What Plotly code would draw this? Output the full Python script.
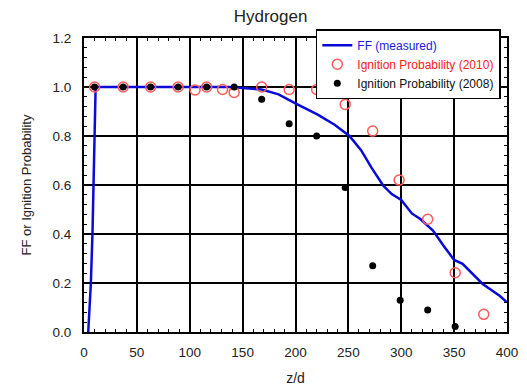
import plotly.graph_objects as go

# Blue FF (measured) curve
ff_z = [4, 6.5, 8, 9, 10, 11, 20, 50, 100, 137, 168, 184, 199, 221, 237, 251, 262,
        272, 283, 291, 300, 310, 318, 330, 340, 350, 358, 368, 377, 393, 400]
ff_val = [0.0, 0.2, 0.4, 0.6, 0.8, 1.0, 1.0, 1.0, 1.0, 1.0, 0.99, 0.97, 0.935, 0.887,
          0.846, 0.80, 0.742, 0.67, 0.597, 0.563, 0.539, 0.484, 0.461, 0.414, 0.352,
          0.294, 0.278, 0.237, 0.196, 0.148, 0.121]

# Ignition probability 2010 (open red circles)
ip2010_z = [10, 37, 63, 89, 105, 116, 131, 142, 168, 194, 220, 247, 273, 298, 325, 351, 378]
ip2010_val = [1.0, 1.0, 1.0, 1.0, 0.988, 1.0, 0.99, 0.978, 1.0, 0.99, 0.99, 0.929,
              0.82, 0.62, 0.46, 0.242, 0.072]

# Ignition probability 2008 (black dots)
ip2008_z = [10, 37, 63, 89, 116, 142, 168, 194, 220, 247, 273, 299, 325, 351]
ip2008_val = [1.0, 1.0, 1.0, 1.0, 1.0, 1.0, 0.95, 0.85, 0.80, 0.59, 0.27, 0.13, 0.09, 0.022]

FONT = "Arial, Liberation Sans, sans-serif"

fig = go.Figure()
fig.add_trace(go.Scatter(
    x=ff_z, y=ff_val, mode="lines",
    line=dict(color="#0a0ad8", width=2.5),
    name="<span style='color:#1a1ae6'>FF (measured)</span>"))
fig.add_trace(go.Scatter(
    x=ip2010_z, y=ip2010_val, mode="markers",
    marker=dict(symbol="circle-open", size=10, color="#ff5a5a", line=dict(width=1.5)),
    name="<span style='color:#ff2020'>Ignition Probability (2010)</span>"))
fig.add_trace(go.Scatter(
    x=ip2008_z, y=ip2008_val, mode="markers",
    marker=dict(symbol="circle", size=7, color="black"),
    name="<span style='color:#111'>Ignition Probability (2008)</span>"))

axis_common = dict(
    showline=True, linecolor="black", linewidth=2, mirror="allticks",
    ticks="inside", ticklen=5, tickcolor="black", tickwidth=1.5,
    showgrid=True, gridcolor="black", gridwidth=1.5, zeroline=False,
    tickfont=dict(family=FONT, size=13.5, color="#222"),
    automargin=False,
)

fig.update_xaxes(
    range=[0, 400], dtick=50, tick0=0,
    minor=dict(ticks="inside", dtick=10, ticklen=3, tickcolor="black", tickwidth=1.2, showgrid=False),
    ticklabelstandoff=7,
    title=dict(text="z/d", font=dict(family=FONT, size=14, color="#222"), standoff=14),
    **axis_common)
fig.update_yaxes(
    range=[0, 1.2], dtick=0.2, tick0=0, tickformat=".1f",
    minor=dict(ticks="inside", dtick=0.04, ticklen=3, tickcolor="black", tickwidth=1.2, showgrid=False),
    ticklabelstandoff=8,
    title=dict(text="FF or Ignition Probability", font=dict(family=FONT, size=13, color="#222"), standoff=18),
    **axis_common)

fig.update_layout(
    width=519, height=379,
    margin=dict(l=76, r=20, t=30, b=55, autoexpand=False),
    paper_bgcolor="white", plot_bgcolor="white",
    title=dict(text="Hydrogen", x=0.441, xref="paper", xanchor="center",
               y=1 - 8 / 379, yanchor="middle",
               font=dict(family=FONT, size=17, color="#222")),
    legend=dict(x=0.548, y=1.0296, xanchor="left", yanchor="top",
                bgcolor="white", bordercolor="black", borderwidth=1.5,
                font=dict(family=FONT, size=12), tracegroupgap=0, itemwidth=30),
    showlegend=True,
)

fig.write_html("out.html")
